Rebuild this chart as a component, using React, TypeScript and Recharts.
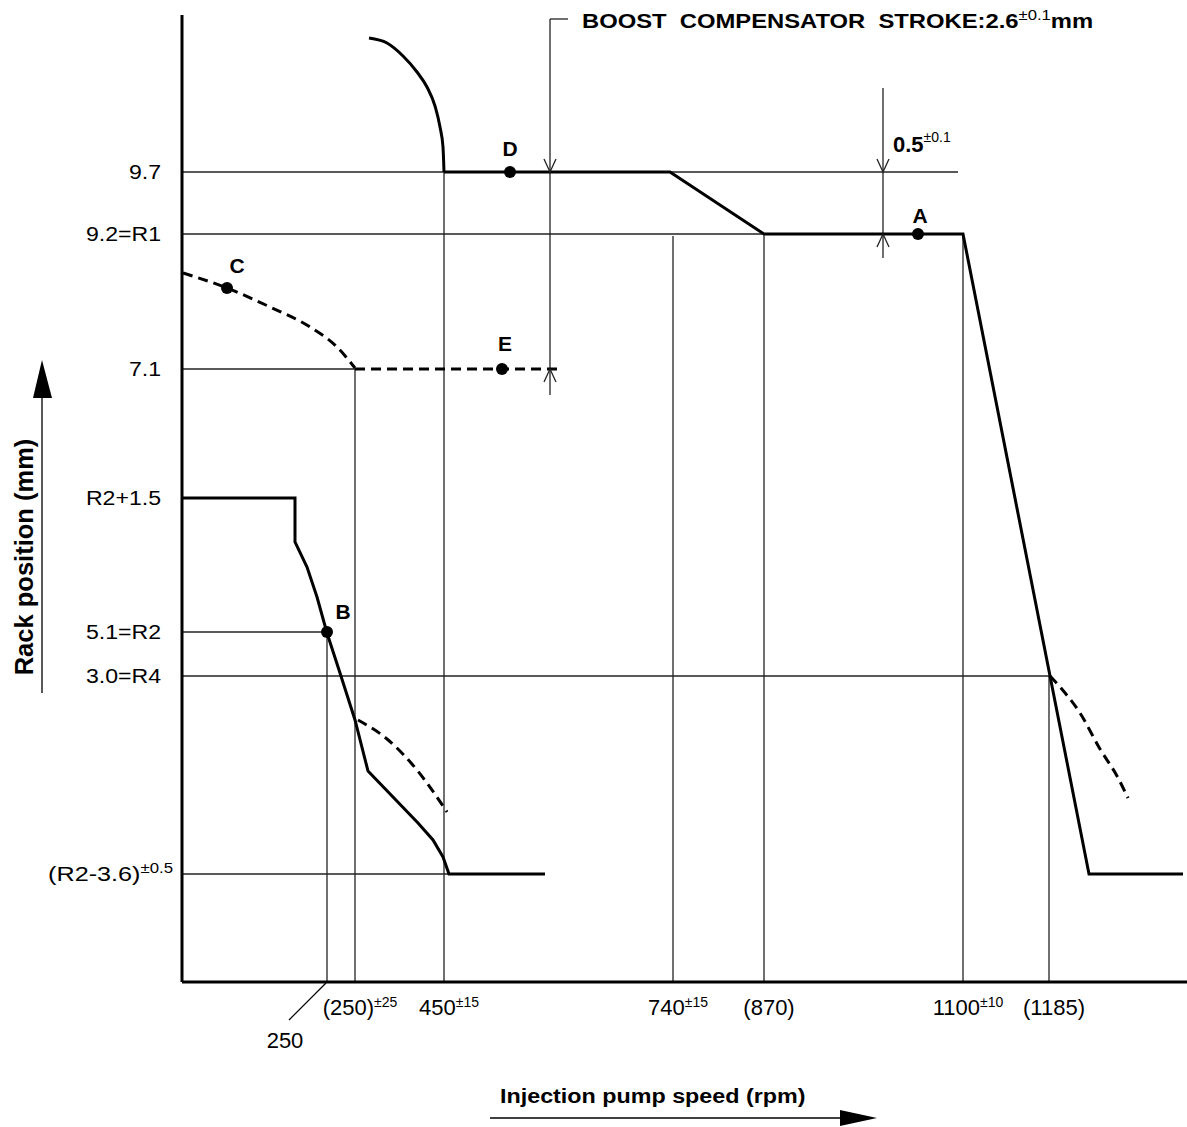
import { ComposedChart, Line, Scatter, XAxis, YAxis, ReferenceLine, ReferenceDot } from "recharts";

const FONT = '"Liberation Sans", Arial, Helvetica, sans-serif';

// schematic diagram units: x = distance right of the rack axis, y = height above the speed axis
const yTickValues = [810, 748, 613, 484, 350, 306, 108];
const yTickLabels = ["9.7", "9.2=R1", "7.1", "R2+1.5", "5.1=R2", "3.0=R4", "(R2-3.6)"];
const yTickSups = ["", "", "", "", "", "", "±0.5"];

const xTickValues = [145, 173, 262, 491, 582, 781, 867];
const xTickLabels = ["250", "(250)", "450", "740", "(870)", "1100", "(1185)"];
const xTickSups = ["", "±25", "±15", "±15", "", "±10", ""];

const startCurve = [
  { x: 187, y: 944 }, { x: 205, y: 939 }, { x: 221, y: 926 }, { x: 235, y: 910 },
  { x: 245, y: 895 }, { x: 253, y: 876 }, { x: 258, y: 855 }, { x: 261, y: 835 }, { x: 262, y: 810 },
];
const fullLoad = [
  { x: 262, y: 810 }, { x: 488, y: 810 }, { x: 582, y: 748 }, { x: 781, y: 748 },
  { x: 907, y: 108 }, { x: 1001, y: 108 },
];
const idleCurve = [
  { x: 0, y: 484 }, { x: 113, y: 484 }, { x: 113, y: 440 }, { x: 125, y: 415 }, { x: 135, y: 385 },
  { x: 145, y: 349 }, { x: 158, y: 309 }, { x: 173, y: 262 }, { x: 186, y: 211 }, { x: 236, y: 159 },
  { x: 251, y: 142 }, { x: 261, y: 125 }, { x: 267, y: 108 }, { x: 363, y: 108 },
];
const idleDashed = [{ x: 176, y: 262 }, { x: 205, y: 243 }, { x: 235, y: 212 }, { x: 265, y: 170 }];
const boostCurve = [
  { x: 1, y: 709 }, { x: 45, y: 694 }, { x: 88, y: 675 }, { x: 128, y: 655 }, { x: 155, y: 635 }, { x: 173, y: 614 },
];
const boostFlat = [{ x: 173, y: 613 }, { x: 381, y: 613 }];
const overrunDashed = [
  { x: 868, y: 306 }, { x: 878, y: 295 }, { x: 898, y: 269 }, { x: 918, y: 233 }, { x: 935, y: 206 }, { x: 946, y: 184 },
];
const checkPoints = [
  { x: 328, y: 810, name: "D" },
  { x: 736, y: 748, name: "A" },
  { x: 45, y: 694, name: "C" },
  { x: 320, y: 613, name: "E" },
  { x: 145, y: 350, name: "B" },
];

const hGuides = [
  { y: 810, x1: 0, x2: 776 }, { y: 748, x1: 0, x2: 781 }, { y: 613, x1: 0, x2: 173 },
  { y: 350, x1: 0, x2: 145 }, { y: 306, x1: 0, x2: 867 }, { y: 108, x1: 0, x2: 267 },
];
const vGuides = [
  { x: 145, y1: 0, y2: 350 }, { x: 173, y1: 0, y2: 613 }, { x: 262, y1: 0, y2: 810 },
  { x: 491, y1: 0, y2: 746 }, { x: 582, y1: 0, y2: 748 }, { x: 781, y1: 0, y2: 748 }, { x: 867, y1: 0, y2: 306 },
];
const dimLines = [
  { x1: 368, y1: 963, x2: 368, y2: 587 }, { x1: 368, y1: 963, x2: 386, y2: 963 },
  { x1: 701, y1: 894, x2: 701, y2: 724 },
];
const dimArrows = [
  { x: 368, y: 810, dir: "down" }, { x: 368, y: 613, dir: "up" },
  { x: 701, y: 810, dir: "down" }, { x: 701, y: 748, dir: "up" },
];

const labelOffsets: Record<string, [number, number]> = { D: [0, -24], A: [2, -19], C: [10, -23], E: [3, -26], B: [16, -21] };

function Txt({ x, y, text, sup = "", after = "", size, supSize = 14, supDy = 8, anchor = "start", bold = false, sx = 1 }: any) {
  return (
    <text transform={`translate(${x},${y}) scale(${sx},1)`} textAnchor={anchor} fontFamily={FONT}
      fontSize={size} fontWeight={bold ? 700 : 400} fill="#000" style={{ whiteSpace: "pre" }}>
      {text}
      {sup && <tspan dy={-supDy} fontSize={supSize} fontWeight={400}>{sup}</tspan>}
      {after && <tspan dy={supDy} fontSize={size} fontWeight={bold ? 700 : 400}>{after}</tspan>}
    </text>
  );
}

function YTick(props: any) {
  const i = yTickValues.indexOf(props.payload.value);
  if (i < 0) return null;
  const sup = yTickSups[i];
  return <Txt x={sup ? 173 : 161} y={props.y + 7} text={yTickLabels[i]} sup={sup} supSize={14} supDy={8}
    size={21} sx={sup ? 1.2 : 1.1} anchor="end" />;
}

function XTick(props: any) {
  const i = xTickValues.indexOf(props.payload.value);
  if (i < 0) return null;
  if (i === 0) {
    return (
      <g>
        <line x1={props.x - 1} y1={983} x2={289} y2={1020} stroke="#000" strokeWidth={1.2} />
        <Txt x={285} y={1048} text={xTickLabels[i]} size={22} anchor="middle" />
      </g>
    );
  }
  return <Txt x={props.x + 5} y={1015} text={xTickLabels[i]} sup={xTickSups[i]} supSize={14} supDy={8}
    size={22} anchor="middle" />;
}

function XTitle() {
  return (
    <g>
      <Txt x={500} y={1103} text="Injection pump speed (rpm)" size={21} bold sx={1.11} />
      <line x1={490} y1={1118} x2={845} y2={1118} stroke="#000" strokeWidth={1.3} />
      <polygon points="840,1110 877,1118 840,1126" fill="#000" />
    </g>
  );
}

function YTitle() {
  return (
    <g>
      <text transform="translate(33,557) rotate(-90)" textAnchor="middle" fontFamily={FONT}
        fontSize={25.5} fontWeight={700} fill="#000">Rack position (mm)</text>
      <line x1={42} y1={395} x2={42} y2={693} stroke="#000" strokeWidth={1.3} />
      <polygon points="33,398 42,360 52,398" fill="#000" />
    </g>
  );
}

function PointShape(props: any) {
  const name = props.payload?.name ?? "";
  const off = labelOffsets[name] || [0, -22];
  return (
    <g>
      <circle cx={props.cx} cy={props.cy} r={6} fill="#000" />
      <Txt x={props.cx + off[0]} y={props.cy + off[1] + 8} text={name} size={21} bold anchor="middle" />
    </g>
  );
}

export default function App() {
  const thick = { stroke: "#000", strokeWidth: 3, dot: false, activeDot: false, isAnimationActive: false, dataKey: "y" };
  const dashed = { ...thick, strokeDasharray: "10 6" };
  return (
    <div style={{ position: "absolute", left: 0, top: 0, background: "#fff" }}>
      <ComposedChart width={1187} height={1127} margin={{ top: 15, right: 0, bottom: 0, left: 0 }}>
        <XAxis type="number" dataKey="x" domain={[0, 1005]} ticks={xTickValues} interval={0} height={145}
          axisLine={{ stroke: "#000", strokeWidth: 3 }} tickLine={false} tick={<XTick />} allowDataOverflow
          label={{ content: () => <XTitle /> }} />
        <YAxis type="number" dataKey="y" domain={[0, 967]} ticks={yTickValues} interval={0} width={182}
          axisLine={{ stroke: "#000", strokeWidth: 3 }} tickLine={false} tick={<YTick />} allowDataOverflow
          label={{ content: () => <YTitle /> }} />

        {hGuides.map((g, i) => (
          <ReferenceLine key={"h" + i} segment={[{ x: g.x1, y: g.y }, { x: g.x2, y: g.y }]} stroke="#222"
            strokeWidth={1.3} ifOverflow="visible" />
        ))}
        {vGuides.map((g, i) => (
          <ReferenceLine key={"v" + i} segment={[{ x: g.x, y: g.y1 }, { x: g.x, y: g.y2 }]} stroke="#222"
            strokeWidth={1.3} ifOverflow="visible" />
        ))}
        {dimLines.map((g, i) => (
          <ReferenceLine key={"d" + i} segment={[{ x: g.x1, y: g.y1 }, { x: g.x2, y: g.y2 }]} stroke="#222"
            strokeWidth={1.3} ifOverflow="visible" />
        ))}
        {dimArrows.map((a, i) => (
          <ReferenceDot key={"a" + i} x={a.x} y={a.y} r={1} ifOverflow="visible"
            shape={(p: any) => {
              const s = a.dir === "down" ? -1 : 1;
              return <path d={`M${p.cx - 6},${p.cy + s * 13} L${p.cx},${p.cy} L${p.cx + 6},${p.cy + s * 13}`}
                fill="none" stroke="#222" strokeWidth={1.3} />;
            }} />
        ))}

        <Line name="start" data={startCurve} type="monotoneX" {...thick} />
        <Line name="full" data={fullLoad} type="linear" {...thick} />
        <Line name="idle" data={idleCurve} type="linear" {...thick} />
        <Line name="idleDash" data={idleDashed} type="monotoneX" {...dashed} />
        <Line name="boostCurve" data={boostCurve} type="monotoneX" {...dashed} />
        <Line name="boostFlat" data={boostFlat} type="linear" {...dashed} />
        <Line name="overrun" data={overrunDashed} type="monotoneX" {...dashed} />
        <Scatter name="points" data={checkPoints} dataKey="y" shape={<PointShape />} isAnimationActive={false} />

        <ReferenceDot x={400} y={954} r={1} ifOverflow="visible"
          shape={(p: any) => <Txt x={p.cx} y={p.cy} text="BOOST  COMPENSATOR  STROKE:2.6" sup="±0.1" after="mm"
            size={20} supSize={14} supDy={8} bold sx={1.19} />} />
        <ReferenceDot x={711} y={830} r={1} ifOverflow="visible"
          shape={(p: any) => <Txt x={p.cx} y={p.cy} text="0.5" sup="±0.1" size={22} supSize={14} supDy={10} bold />} />
      </ComposedChart>
    </div>
  );
}
